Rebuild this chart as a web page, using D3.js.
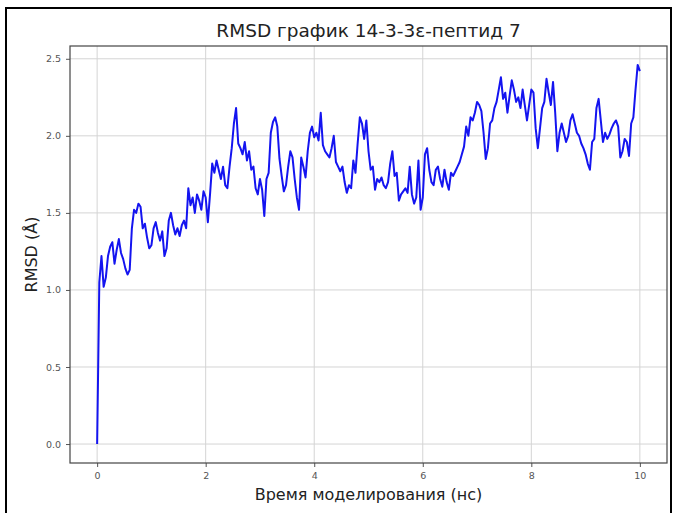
<!DOCTYPE html>
<html>
<head>
<meta charset="utf-8">
<script src="https://cdn.jsdelivr.net/npm/d3@7/dist/d3.min.js"></script>
<style>
  html, body { margin: 0; padding: 0; background: #fff; }
  svg { display: block; }
</style>
</head>
<body>
<svg id="chart" width="676" height="513"></svg>
<script>
// ---- DATA ----
const titleText = "RMSD график 14-3-3ε-пептид 7";
const xLabelText = "Время моделирования (нс)";
const yLabelText = "RMSD (Å)";
const timeStep = 0.04; // ns between samples
const rmsd = [
  // 0–1 ns
  0.00, 1.05, 1.22, 1.02, 1.08, 1.22, 1.28, 1.31, 1.17, 1.26, 1.33, 1.24, 1.20, 1.14, 1.10, 1.13, 1.40, 1.52, 1.50, 1.56, 1.54, 1.40, 1.43, 1.34, 1.27,
  // 1–2 ns
  1.29, 1.40, 1.44, 1.37, 1.32, 1.38, 1.22, 1.27, 1.45, 1.50, 1.42, 1.36, 1.40, 1.35, 1.42, 1.45, 1.40, 1.66, 1.55, 1.60, 1.50, 1.62, 1.58, 1.52, 1.64,
  // 2–3 ns
  1.60, 1.44, 1.62, 1.82, 1.76, 1.84, 1.78, 1.72, 1.80, 1.68, 1.66, 1.80, 1.92, 2.08, 2.18, 1.95, 1.92, 1.88, 1.96, 1.84, 1.90, 1.78, 1.80, 1.66, 1.62,
  // 3–4 ns
  1.72, 1.65, 1.48, 1.72, 1.76, 2.02, 2.09, 2.12, 2.06, 1.85, 1.74, 1.64, 1.68, 1.80, 1.90, 1.86, 1.72, 1.60, 1.52, 1.86, 1.80, 1.73, 1.90, 2.02, 2.06,
  // 4–5 ns
  1.99, 2.02, 1.97, 2.15, 1.94, 1.90, 1.88, 1.86, 1.92, 2.00, 1.83, 1.80, 1.77, 1.80, 1.70, 1.63, 1.68, 1.66, 1.84, 1.76, 1.95, 2.12, 2.08, 1.98, 2.10,
  // 5–6 ns
  1.90, 1.78, 1.80, 1.65, 1.72, 1.70, 1.73, 1.68, 1.66, 1.70, 1.82, 1.90, 1.74, 1.76, 1.58, 1.62, 1.64, 1.66, 1.63, 1.80, 1.62, 1.56, 1.60, 1.84, 1.52,
  // 6–7 ns
  1.60, 1.88, 1.92, 1.78, 1.70, 1.68, 1.78, 1.80, 1.72, 1.67, 1.78, 1.70, 1.65, 1.76, 1.74, 1.77, 1.80, 1.83, 1.88, 1.93, 2.06, 2.00, 2.12, 2.10, 2.15,
  // 7–8 ns
  2.22, 2.20, 2.16, 2.02, 1.85, 1.92, 2.08, 2.10, 2.18, 2.22, 2.30, 2.38, 2.24, 2.28, 2.15, 2.26, 2.36, 2.30, 2.22, 2.25, 2.18, 2.30, 2.20, 2.10, 2.20,
  // 8–9 ns
  2.30, 2.28, 2.05, 1.92, 2.05, 2.18, 2.22, 2.37, 2.28, 2.20, 2.35, 2.15, 1.90, 2.02, 2.08, 2.02, 1.96, 2.00, 2.10, 2.14, 2.08, 2.02, 2.00, 1.95, 1.92,
  // 9–10 ns
  1.88, 1.82, 1.78, 1.96, 1.98, 2.18, 2.24, 2.10, 1.96, 2.02, 1.98, 2.01, 2.05, 2.08, 2.10, 2.06, 1.86, 1.90, 1.98, 1.96, 1.87, 2.08, 2.12, 2.30, 2.46,
  2.42
];
const xTicks = [0, 2, 4, 6, 8, 10];
const yTicks = [0.0, 0.5, 1.0, 1.5, 2.0, 2.5];

// ---- LAYOUT ----
const svg = d3.select("#chart");
const plot = { left: 70, right: 667, top: 46, bottom: 463 };

svg.append("rect").attr("x", 0).attr("y", 0).attr("width", 676).attr("height", 513).attr("fill", "#fff");
// outer frame
svg.append("rect").attr("x", 6).attr("y", 8).attr("width", 665).attr("height", 520)
  .attr("fill", "none").attr("stroke", "#000").attr("stroke-width", 2);

const data = rmsd.map((v, i) => ({ t: i * timeStep, v }));
const tMax = d3.max(data, d => d.t), vMax = d3.max(rmsd), vMin = d3.min(rmsd);
const xPad = (tMax - 0) * 0.05, yPad = (vMax - vMin) * 0.05;

const x = d3.scaleLinear().domain([0 - xPad, tMax + xPad]).range([plot.left, plot.right]);
const y = d3.scaleLinear().domain([vMin - yPad, vMax + yPad]).range([plot.bottom, plot.top]);

// grid
const grid = svg.append("g").attr("stroke", "#d4d4d4").attr("stroke-width", 1);
grid.selectAll(".gx").data(xTicks).join("line")
  .attr("x1", d => x(d)).attr("x2", d => x(d)).attr("y1", plot.top).attr("y2", plot.bottom);
grid.selectAll(".gy").data(yTicks).join("line")
  .attr("x1", plot.left).attr("x2", plot.right).attr("y1", d => y(d)).attr("y2", d => y(d));

// line
svg.append("path").datum(data)
  .attr("fill", "none").attr("stroke", "#1414f0").attr("stroke-width", 2)
  .attr("stroke-linejoin", "round")
  .attr("d", d3.line().x(d => x(d.t)).y(d => y(d.v)));

// axes
const fmtY = d3.format(".1f");
const xAxis = svg.append("g").attr("transform", `translate(0,${plot.bottom})`)
  .call(d3.axisBottom(x).tickValues(xTicks).tickSize(4).tickPadding(5).tickFormat(d3.format("d")));
const yAxis = svg.append("g").attr("transform", `translate(${plot.left},0)`)
  .call(d3.axisLeft(y).tickValues(yTicks).tickSize(4).tickPadding(5).tickFormat(fmtY));
[xAxis, yAxis].forEach(g => {
  g.select(".domain").remove();
  g.selectAll(".tick line").attr("stroke", "#555");
  g.selectAll(".tick text").attr("fill", "#555").style("font-family", "DejaVu Sans").style("font-size", "9.5px");
});

// frame (spines)
svg.append("rect").attr("x", plot.left).attr("y", plot.top)
  .attr("width", plot.right - plot.left).attr("height", plot.bottom - plot.top)
  .attr("fill", "none").attr("stroke", "#444").attr("stroke-width", 1.2);

// title & labels
const cx = (plot.left + plot.right) / 2;
svg.append("text").attr("x", cx).attr("y", 37).attr("text-anchor", "middle")
  .style("font-family", "DejaVu Sans").style("font-size", "18.5px").attr("fill", "#222").text(titleText);
svg.append("text").attr("x", cx).attr("y", 500).attr("text-anchor", "middle")
  .style("font-family", "DejaVu Sans").style("font-size", "16px").attr("fill", "#222").text(xLabelText);
svg.append("text").attr("transform", `translate(37,${(plot.top + plot.bottom) / 2}) rotate(-90)`)
  .attr("text-anchor", "middle")
  .style("font-family", "DejaVu Sans").style("font-size", "16px").attr("fill", "#222").text(yLabelText);
</script>
</body>
</html>
